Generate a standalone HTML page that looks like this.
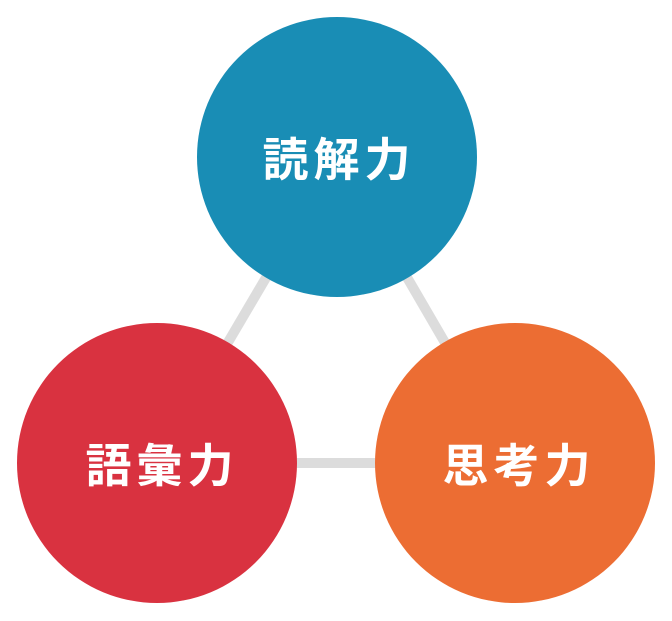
<!DOCTYPE html>
<html><head><meta charset="utf-8"><style>
html,body{margin:0;padding:0;background:#fff;}
svg{display:block}
text{font-family:"Liberation Sans","Noto Sans CJK JP",sans-serif;font-weight:bold;fill:#fff;font-size:46px;letter-spacing:5px}
</style></head><body>
<svg width="672" height="621" viewBox="0 0 672 621">
<g stroke="#dcdcdc" stroke-width="10">
<line x1="337" y1="157" x2="157" y2="463"/>
<line x1="337" y1="157" x2="515" y2="463"/>
<line x1="157" y1="463" x2="515" y2="463"/>
</g>
<circle cx="337" cy="157" r="140" fill="#198db5"/>
<circle cx="157" cy="463" r="140" fill="#d93240"/>
<circle cx="515" cy="463" r="140" fill="#ec6d33"/>
<text x="339" y="176" text-anchor="middle">読解力</text>
<text x="162" y="482" text-anchor="middle">語彙力</text>
<text x="519" y="482" text-anchor="middle">思考力</text>
</svg>
</body></html>
